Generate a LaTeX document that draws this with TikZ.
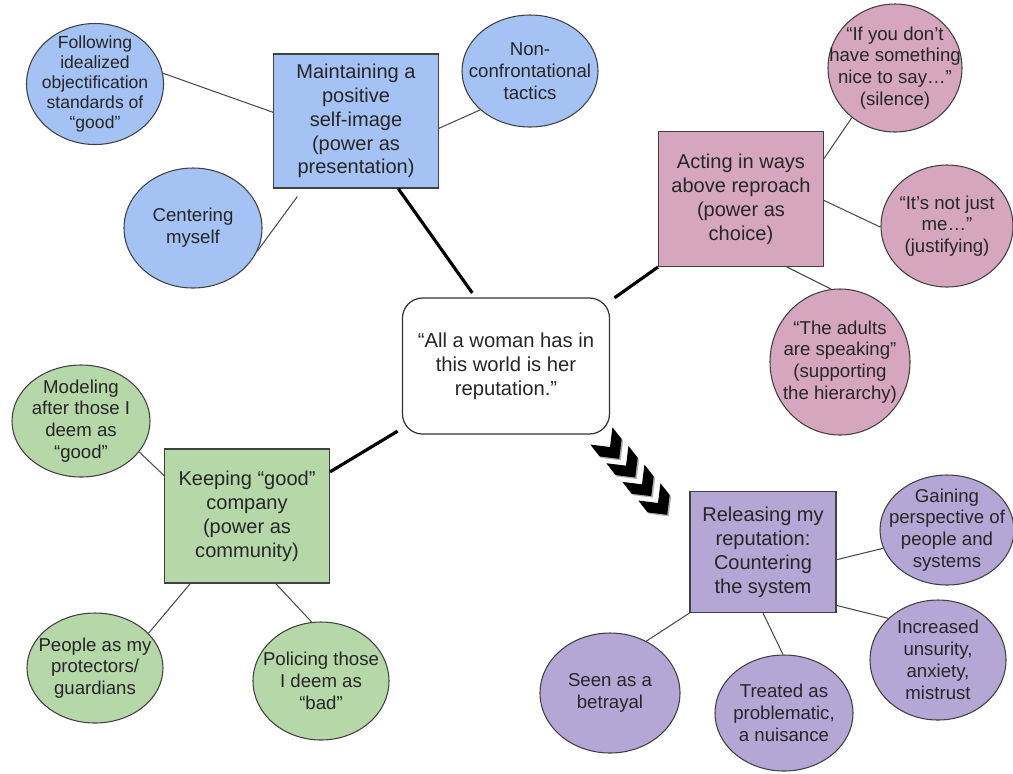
\documentclass[tikz,border=0pt]{standalone}
\usepackage{fontspec}
\setmainfont{Liberation Sans}
\usepackage{xcolor}
\usetikzlibrary{shapes.geometric}

\definecolor{presblue}{HTML}{A4C2F4}
\definecolor{choicepink}{HTML}{D5A6BD}
\definecolor{commgreen}{HTML}{B6D7A8}
\definecolor{releasepurple}{HTML}{B4A7D6}

\begin{document}
\begin{tikzpicture}[
	box/.style={draw=black!75, line width=0.6pt, minimum width=3.3cm, minimum height=2.68cm, align=center, inner sep=2pt, text=black!85, font=\fontsize{11.4}{13.6}\selectfont},
	bubble/.style 2 args={ellipse, draw=black!75, line width=0.6pt, minimum width=#1, minimum height=#2, inner sep=0pt},
	words/.style={align=center, inner sep=0pt, text=black!85, font=\fontsize{10.6}{12.4}\selectfont},
	link/.style={draw=black!70, line width=0.6pt},
	spoke/.style={line width=1.8pt}
]
	\useasboundingbox (0,0) rectangle (20.26,-15.46);

	% centre
	\node[draw=black!80, line width=0.7pt, rounded corners=0.4cm, fill=white, minimum width=4.14cm, minimum height=2.72cm, align=center, text=black!85, font=\fontsize{11.5}{13.6}\selectfont] (mainquote) at (10.12,-7.32) {``All a woman has in\\this world is her\\reputation.''};

	% the four groups
	\node[box, fill=presblue] (presentation) at (7.12,-2.42) {Maintaining a\\positive\\self-image\\(power as\\presentation)};
	\node[box, fill=choicepink, minimum height=2.7cm] (choice) at (14.82,-3.98) {Acting in ways\\above reproach\\(power as\\choice)};
	\node[box, fill=commgreen] (community) at (4.94,-10.32) {Keeping ``good''\\company\\(power as\\community)};
	\node[box, fill=releasepurple, minimum width=2.92cm, minimum height=2.42cm] (release) at (15.26,-11.04) {Releasing my\\reputation:\\Countering\\the system};

	% blue
	\node[bubble={2.74cm}{2.42cm}, fill=presblue, label={[words, font=\fontsize{10}{11.4}\selectfont]center:{Following\\idealized\\objectification\\standards of\\``good''}}] (idealized) at (1.9,-1.68) {};
	\node[bubble={2.72cm}{2.24cm}, fill=presblue, label={[words]center:{Non-\\confrontational\\tactics}}] (nonconf) at (10.6,-1.42) {};
	\node[bubble={2.76cm}{2.4cm}, fill=presblue, label={[words]center:{Centering\\myself}}] (centering) at (3.86,-4.56) {};

	% pink
	\node[bubble={2.68cm}{2.56cm}, fill=choicepink, label={[words]center:{``If you don't\\have something\\nice to say\ldots''\\(silence)}}] (silence) at (17.9,-1.36) {};
	\node[bubble={2.64cm}{2.44cm}, fill=choicepink, label={[words]center:{``It's not just\\me\ldots''\\(justifying)}}] (justifying) at (18.94,-4.52) {};
	\node[bubble={2.8cm}{2.92cm}, fill=choicepink, label={[words]center:{``The adults\\are speaking''\\(supporting\\the hierarchy)}}] (hierarchy) at (16.8,-7.24) {};

	% green
	\node[bubble={2.76cm}{2.24cm}, fill=commgreen, label={[words]center:{Modeling\\after those I\\deem as\\``good''}}] (modeling) at (1.62,-8.42) {};
	\node[bubble={2.72cm}{2.2cm}, fill=commgreen, label={[words]center:{People as my\\protectors/\\guardians}}] (protectors) at (1.9,-13.36) {};
	\node[bubble={2.72cm}{2.36cm}, fill=commgreen, label={[words]center:{Policing those\\I deem as\\``bad''}}] (policing) at (6.42,-13.62) {};

	% purple
	\node[bubble={2.68cm}{2.2cm}, fill=releasepurple, label={[words]center:{Gaining\\perspective of\\people and\\systems}}] (perspective) at (18.94,-10.6) {};
	\node[bubble={2.72cm}{2.4cm}, fill=releasepurple, label={[words]center:{Increased\\unsurity,\\anxiety,\\mistrust}}] (unsurity) at (18.76,-13.2) {};
	\node[bubble={2.76cm}{2.32cm}, fill=releasepurple, label={[words]center:{Treated as\\problematic,\\a nuisance}}] (nuisance) at (15.68,-14.26) {};
	\node[bubble={2.8cm}{2.4cm}, fill=releasepurple, label={[words]center:{Seen as a\\betrayal}}] (betrayal) at (12.2,-13.86) {};

	% spokes from the centre
	\draw[spoke, shorten <=0.11cm] (mainquote.114) -- (presentation.-58);
	\draw[spoke, shorten <=0.11cm] (mainquote.32) -- (choice.south west);
	\draw[spoke, shorten <=0.1cm] (mainquote.211) -- (community.28);

	% thin links
	\draw[link] (idealized.9) -- (presentation.174);
	\draw[link] (nonconf.218) -- (presentation.-5);
	\draw[link, shorten >=0.2cm] (centering.-20) -- (presentation.232);
	\draw[link] (silence.229) -- (choice.26);
	\draw[link] (justifying.181) -- (choice.-1);
	\draw[link] (hierarchy.97) -- (choice.-56);
	\draw[link] (modeling.-28) -- (community.154);
	\draw[link] (protectors.33) -- (community.230);
	\draw[link] (policing.99) -- (community.-67);
	\draw[link] (perspective.196) -- (release.-6);
	\draw[link] (unsurity.140) -- (release.-36);
	\draw[link] (nuisance.91) -- (release.south);
	\draw[link] (betrayal.55) -- (release.south west);

	% chevrons
	\foreach \k in {0,...,3} {
		\fill[black!30, shift={(12.23+0.32*\k,-8.97-0.373*\k)}, rotate=-52] (-0.28,0.28) -- (0.02,0.28) -- (0.3,0) -- (0.02,-0.28) -- (-0.28,-0.28) -- (0,0) -- cycle;
		\fill[shift={(12.2+0.32*\k,-8.94-0.373*\k)}, rotate=-52] (-0.28,0.28) -- (0.02,0.28) -- (0.3,0) -- (0.02,-0.28) -- (-0.28,-0.28) -- (0,0) -- cycle;
	}
\end{tikzpicture}
\end{document}
